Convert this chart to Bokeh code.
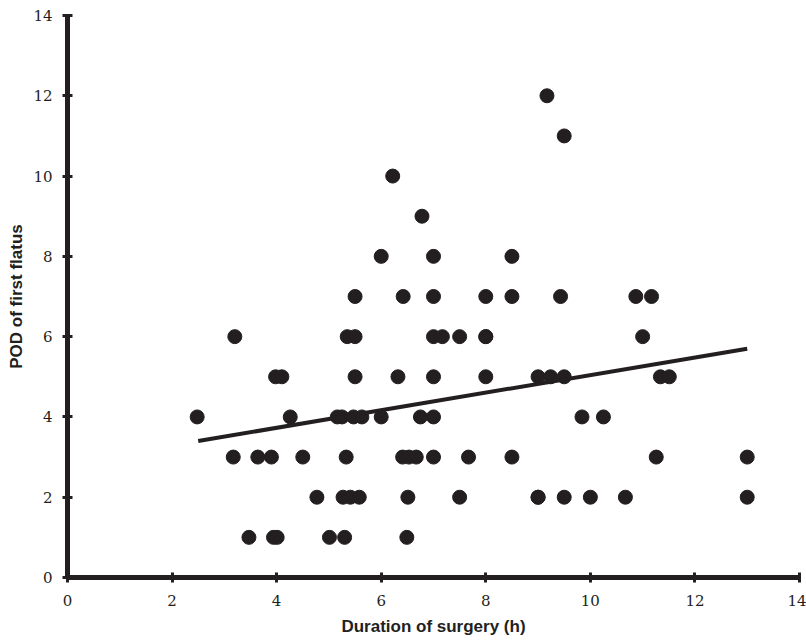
from bokeh.plotting import figure
from bokeh.models import Range1d, FixedTicker
from bokeh.embed import file_html
from bokeh.resources import INLINE

# Data
duration_h = [
    9.17,
    9.5,
    6.22,
    6.78,
    6.0, 7.0, 8.5,
    5.5, 6.42, 7.0, 8.0, 8.5, 9.43, 10.87, 11.17,
    3.2, 5.35, 5.5, 7.0, 7.17, 7.5, 8.0, 8.0, 11.0,
    3.98, 4.1, 5.5, 6.32, 7.0, 8.0, 9.0, 9.24, 9.5, 11.34, 11.51,
    2.48, 4.26, 5.16, 5.25, 5.47, 5.63, 6.0, 6.75, 7.0, 9.84, 10.25,
    3.17, 3.64, 3.9, 4.5, 5.33, 6.41, 6.53, 6.67, 7.0, 7.67, 8.5, 11.26, 13.0,
    4.77, 5.27, 5.41, 5.58, 6.51, 7.5, 9.0, 9.0, 9.5, 10.0, 10.67, 13.0,
    3.47, 3.94, 4.01, 5.01, 5.30, 6.49,
]
pod_flatus = [
    12,
    11,
    10,
    9,
    8, 8, 8,
    7, 7, 7, 7, 7, 7, 7, 7,
    6, 6, 6, 6, 6, 6, 6, 6, 6,
    5, 5, 5, 5, 5, 5, 5, 5, 5, 5, 5,
    4, 4, 4, 4, 4, 4, 4, 4, 4, 4, 4,
    3, 3, 3, 3, 3, 3, 3, 3, 3, 3, 3, 3, 3,
    2, 2, 2, 2, 2, 2, 2, 2, 2, 2, 2, 2,
    1, 1, 1, 1, 1, 1,
]
trend_x = [2.5, 13.0]
trend_y = [3.4, 5.7]
ticks = [0, 2, 4, 6, 8, 10, 12, 14]

INK = "#231f20"

p = figure(width=806, height=641, output_backend="svg", toolbar_location=None,
           x_range=Range1d(0, 14), y_range=Range1d(0, 14),
           min_border_left=67, min_border_right=7, min_border_top=15, min_border_bottom=64)
p.outline_line_color = None
p.xgrid.grid_line_color = None
p.ygrid.grid_line_color = None
p.background_fill_color = "white"
p.border_fill_color = "white"

p.scatter(duration_h, pod_flatus, size=14, color=INK, line_color=INK)
p.line(trend_x, trend_y, line_width=4, color=INK)

for ax in (p.xaxis[0], p.yaxis[0]):
    ax.ticker = FixedTicker(ticks=ticks)
    ax.minor_tick_line_color = None
    ax.axis_line_width = 5
    ax.axis_line_color = INK
    ax.major_tick_line_color = INK
    ax.major_tick_line_width = 3
    ax.major_tick_in = 5
    ax.major_tick_out = 5
    ax.major_label_text_font = "DejaVu Serif"
    ax.major_label_text_font_size = "15px"
    ax.major_label_text_color = INK
    ax.axis_label_text_font = "Liberation Sans"
    ax.axis_label_text_font_style = "bold"
    ax.axis_label_text_font_size = "17px"
    ax.axis_label_text_color = INK

p.xaxis.axis_label = "Duration of surgery (h)"
p.yaxis.axis_label = "POD of first flatus"
p.xaxis.major_label_standoff = 12
p.yaxis.major_label_standoff = 10
p.xaxis.axis_label_standoff = 8
p.yaxis.axis_label_standoff = 4

open("out.html", "w").write(file_html(p, INLINE))
